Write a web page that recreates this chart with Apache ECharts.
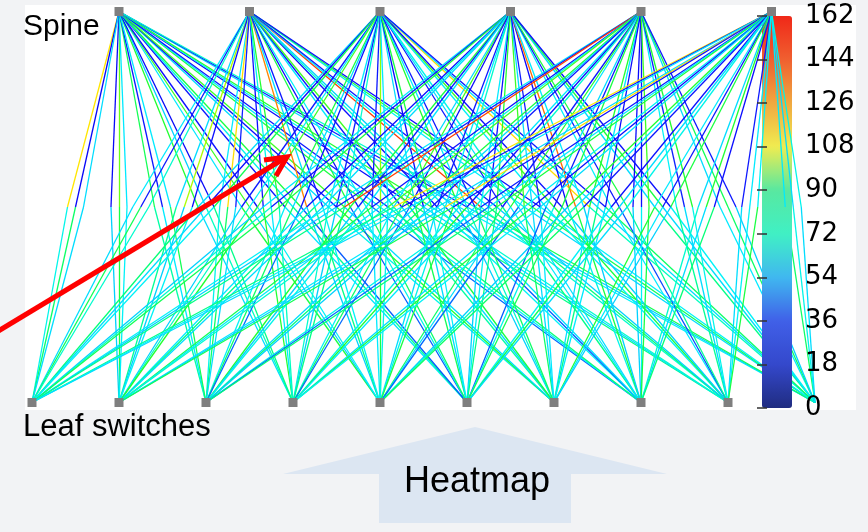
<!DOCTYPE html>
<html><head><meta charset="utf-8">
<script src="https://cdn.jsdelivr.net/npm/echarts@6/dist/echarts.min.js"></script>
<style>html,body{margin:0;padding:0;background:#f2f3f5}#c{width:868px;height:532px}</style>
</head><body><div id="c"></div>
<script>
// ---- data ----
const spines = ['Spine 1', 'Spine 2', 'Spine 3', 'Spine 4', 'Spine 5', 'Spine 6'];
const leaves = ['Leaf 1', 'Leaf 2', 'Leaf 3', 'Leaf 4', 'Leaf 5', 'Leaf 6', 'Leaf 7', 'Leaf 8', 'Leaf 9', 'Leaf 10'];
const linksPerPair = 3;
const loadMin = 0;
const loadMax = 162;
const colorTicks = [0, 18, 36, 54, 72, 90, 108, 126, 144, 162];
// load on the spine-side half of every link: per spine, leaf by leaf, 3 links each
const upLoad = [
  [110, 25, 60,  25, 95, 62,  86, 30, 62,  90, 58, 25,  62, 92, 28,  30, 66, 88,  60, 28, 92,  88, 62, 30,  26, 64, 90,  60, 32, 70],
  [62, 30, 70,   60, 100, 28, 62, 112, 32, 28, 66, 90,  132, 60, 30, 88, 26, 64,  62, 30, 92,  28, 70, 58,  150, 62, 30, 64, 88, 28],
  [60, 28, 86,   30, 64, 92,  88, 60, 28,  62, 32, 70,  30, 98, 62,  60, 26, 88,  90, 62, 30,  30, 60, 66,  64, 92, 28,  112, 60, 30],
  [62, 30, 88,   28, 64, 60,  88, 32, 62,  60, 92, 26,  30, 62, 70,  62, 28, 90,  92, 60, 30,  26, 138, 62, 64, 30, 88,  60, 88, 28],
  [62, 30, 150,  28, 66, 92,  88, 60, 30,  62, 28, 70,  30, 90, 62,  60, 30, 88,  90, 62, 26,  26, 28, 92,  64, 32, 90,  60, 86, 30],
  [110, 30, 62,  60, 112, 28, 30, 62, 88,  64, 28, 60,  90, 62, 30,  28, 60, 66,  62, 30, 88,  60, 90, 28,  30, 62, 64,  62, 60, 66]
];
// load on the leaf-side half of every link
const downLoad = [
  [66, 84, 60,  58, 88, 64,  76, 62, 86,  60, 72, 80,  88, 58, 64,  62, 78, 42,  66, 90, 60,  44, 64, 82,  80, 60, 70,  64, 58, 86],
  [60, 86, 70,  78, 58, 64,  66, 84, 60,  90, 62, 72,  58, 80, 64,  42, 66, 84,  76, 60, 88,  64, 42, 60,  70, 82, 58,  60, 86, 64],
  [82, 60, 64,  58, 72, 90,  64, 84, 44,  70, 58, 80,  62, 88, 66,  86, 60, 64,  58, 70, 84,  80, 62, 60,  64, 88, 58,  72, 60, 84],
  [58, 70, 86,  62, 80, 60,  90, 58, 66,  64, 84, 44,  60, 66, 88,  58, 64, 80,  84, 60, 62,  66, 88, 58,  62, 40, 78,  80, 60, 64],
  [64, 58, 80,  86, 62, 70,  60, 82, 58,  66, 90, 62,  84, 60, 44,  42, 66, 86,  60, 80, 62,  58, 64, 88,  78, 60, 66,  62, 84, 58],
  [80, 64, 60,  62, 58, 86,  66, 44, 82,  60, 88, 64,  58, 72, 84,  64, 86, 60,  90, 62, 58,  70, 60, 82,  60, 64, 88,  84, 66, 60]
];

// ---- styles / layout ----
// line colour ramp, evenly spaced over 0..162 (step 9)
const lineColors = ['#000080', '#0000a8', '#0000e0', '#0a0aff', '#1030ff', '#0070ff', '#00b8ff', '#00f0ff', '#00ffc0',
  '#00ff80', '#20ff30', '#a0ff00', '#ffee00', '#ffc800', '#ffa000', '#ff7800', '#ff5000', '#ff3000', '#ff1a00'];
const barColors = ['#202c80', '#3448cc', '#4060e8', '#40b8f0', '#40f0c4', '#58e8a0', '#f0ec50', '#f0a840', '#f06030', '#f02818'];
const spineX = i => 1 + 1.5 * i;   // spines sit between leaf columns
const spread = 0.092;              // fan-out of parallel links at mid height
const colorOf = v => echarts.color.lerp((v - loadMin) / (loadMax - loadMin), lineColors);

const upSeg = [], downSeg = [];
spines.forEach((s, i) => {
  leaves.forEach((l, j) => {
    for (let k = 0; k < linksPerPair; k++) {
      const xs = spineX(i), xl = j;
      const xm = (xs + xl) / 2 + (k - (linksPerPair - 1) / 2) * spread;
      const u = upLoad[i][j * linksPerPair + k];
      const d = downLoad[i][j * linksPerPair + k];
      upSeg.push({ name: s + '-' + l, coords: [[xs, 1], [xm, 0.5]], value: u, lineStyle: { color: colorOf(u) } });
      downSeg.push({ name: l + '-' + s, coords: [[xm, 0.5], [xl, 0]], value: d, lineStyle: { color: colorOf(d) } });
    }
  });
});
const nodeData = spines.map((s, i) => ({ name: s, value: [spineX(i), 1] }))
  .concat(leaves.slice(0, 9).map((l, j) => ({ name: l, value: [j, 0] })));

const chart = echarts.init(document.getElementById('c'));
const FONT = '"Liberation Sans", Arial, sans-serif';
const tickStyle = { show: true, inside: true, length: 5, lineStyle: { color: '#333', width: 1.5 } };
chart.setOption({
  animation: false,
  backgroundColor: '#f2f3f5',
  grid: [
    { left: 32, top: 11.5, width: 783, height: 391 },
    { left: 762, top: 16, width: 30, height: 392 }
  ],
  xAxis: [
    { type: 'value', min: 0, max: leaves.length - 1, show: false },
    { type: 'value', gridIndex: 1, show: false }
  ],
  yAxis: [
    { type: 'value', min: 0, max: 1, show: false },
    {
      type: 'value', gridIndex: 1, position: 'right', min: loadMin, max: loadMax, interval: 18, z: 10,
      axisLine: { show: false }, splitLine: { show: false }, axisTick: tickStyle,
      axisLabel: { show: true, showMinLabel: true, showMaxLabel: true, margin: 13, color: '#000',
        fontSize: 26, fontFamily: '"DejaVu Sans", sans-serif', padding: [0, 0, 4, 0],
        formatter: v => colorTicks.includes(v) ? String(v) : '' }
    },
    {
      type: 'value', gridIndex: 1, position: 'left', min: loadMin, max: loadMax, interval: 18, z: 10,
      axisLine: { show: false }, splitLine: { show: false }, axisLabel: { show: false }, axisTick: tickStyle
    }
  ],
  visualMap: {
    type: 'continuous', min: loadMin, max: loadMax, seriesIndex: 3, calculable: false,
    left: 762, top: 16, itemWidth: 30, itemHeight: 392, padding: 0, text: null,
    inRange: { color: barColors }
  },
  graphic: [
    { type: 'rect', z: -10, shape: { x: 25, y: 5, width: 831, height: 405 }, style: { fill: '#ffffff' } },
    { type: 'polygon', z: 1, shape: { points: [[283, 474], [475, 427], [667, 474], [571, 474], [571, 523], [379, 523], [379, 474]] },
      style: { fill: '#dce6f2' } },
    { type: 'text', z: 2, x: 477, y: 482, style: { text: 'Heatmap', font: '36px ' + FONT, fill: '#000', textAlign: 'center', textVerticalAlign: 'middle' } },
    { type: 'text', z: 50, x: 23, y: 27, style: { text: 'Spine', font: '30px ' + FONT, fill: '#000', textAlign: 'left', textVerticalAlign: 'middle' } },
    { type: 'text', z: 50, x: 23, y: 427, style: { text: 'Leaf switches', font: '31px ' + FONT, fill: '#000', textAlign: 'left', textVerticalAlign: 'middle' } },
    { type: 'polyline', z: 100, shape: { points: [[-5, 333], [285, 158]] }, style: { stroke: '#ff0000', lineWidth: 5, fill: null } },
    { type: 'polyline', z: 100, shape: { points: [[264, 160], [287, 157], [276, 176]] }, style: { stroke: '#ff0000', lineWidth: 5, fill: null, lineJoin: 'miter' } }
  ],
  series: [
    { type: 'lines', coordinateSystem: 'cartesian2d', polyline: false, silent: true, z: 3,
      lineStyle: { width: 1.3, opacity: 1 }, data: downSeg },
    { type: 'lines', coordinateSystem: 'cartesian2d', polyline: false, silent: true, z: 4,
      lineStyle: { width: 1.3, opacity: 1 }, data: upSeg },
    { type: 'scatter', symbol: 'rect', symbolSize: 9, z: 20, silent: true,
      itemStyle: { color: '#7f7f7f', opacity: 1 }, data: nodeData },
    { type: 'scatter', xAxisIndex: 1, yAxisIndex: 1, data: [], silent: true }
  ]
});
</script>
</body></html>
